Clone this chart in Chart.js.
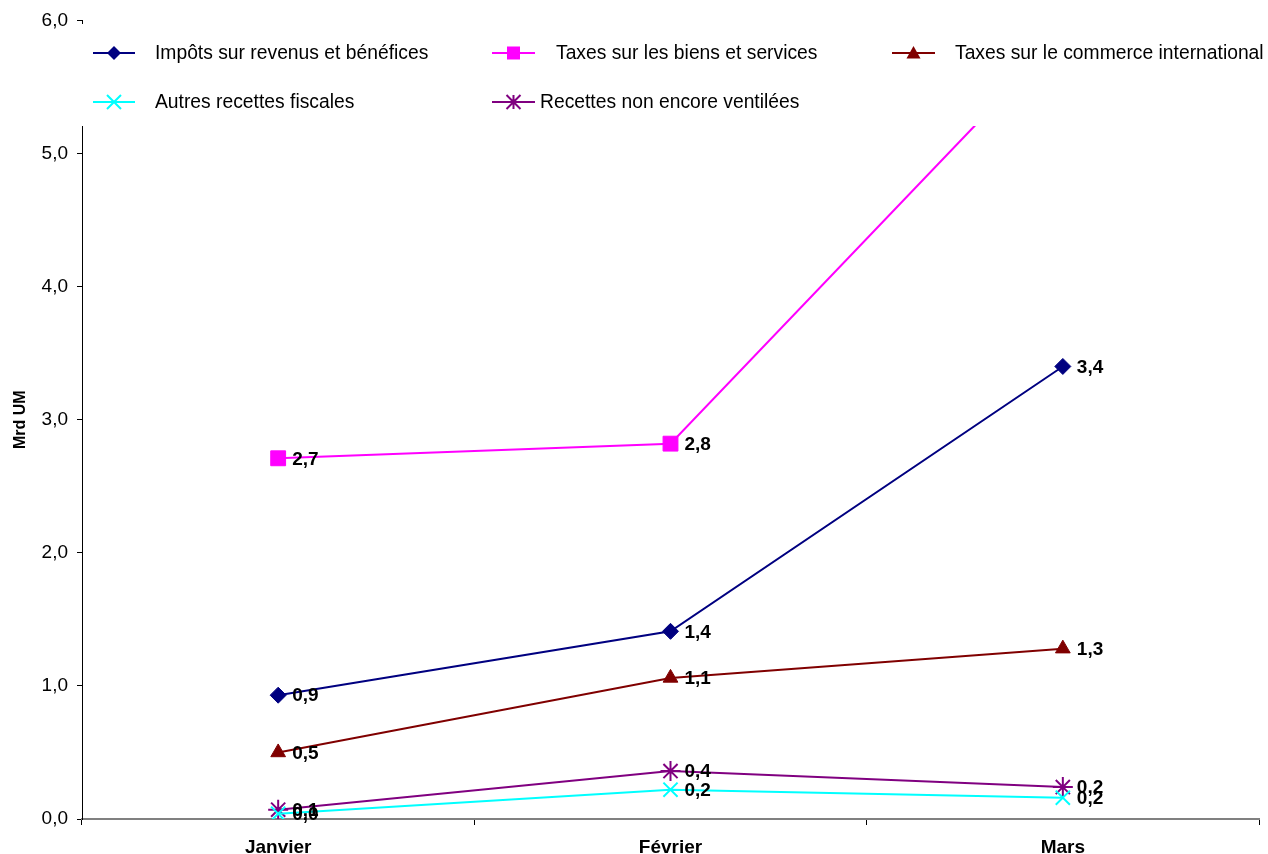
<!DOCTYPE html>
<html>
<head>
<meta charset="utf-8">
<script src="https://cdn.jsdelivr.net/npm/chart.js@4"></script>
<style>
  body { margin: 0; background: #fff; }
  canvas { display: block; }
</style>
</head>
<body>
<canvas id="recettes" width="1268" height="854"></canvas>
<script>
// mois
const mois = ['Janvier', 'Février', 'Mars']

// séries (Mrd UM)
const impots = [0.93, 1.41, 3.40]
const biensServices = [2.71, 2.82, 5.90]
const commerceIntl = [0.50, 1.06, 1.28]
const autresRecettes = [0.04, 0.22, 0.16]
const nonVentilees = [0.07, 0.36, 0.24]

const yTicks = [0, 1, 2, 3, 4, 5, 6]

const fmt = v => v.toFixed(1).replace('.', ',')
const FONT = '"Liberation Sans", Arial, sans-serif'

const series = [
    { label: 'Impôts sur revenus et bénéfices', data: impots, color: '#000080', style: 'rectRot', r: 8 },
    { label: 'Taxes sur les biens et services', data: biensServices, color: '#FF00FF', style: 'rect', r: 10.5 },
    { label: 'Taxes sur le commerce international', data: commerceIntl, color: '#800000', style: 'triangle', r: 8.5 },
    { label: 'Autres recettes fiscales', data: autresRecettes, color: '#00FFFF', style: 'crossRot', r: 10 },
    { label: 'Recettes non encore ventilées', data: nonVentilees, color: '#800080', style: 'star', r: 10 },
]

// légende dessinée à la main, posée sur le haut du graphique
const legendSlots = [
    { x1: 93, x2: 135, y: 53, tx: 155 },
    { x1: 492, x2: 535, y: 53, tx: 556 },
    { x1: 892, x2: 935, y: 53, tx: 955 },
    { x1: 93, x2: 135, y: 102, tx: 155 },
    { x1: 492, x2: 535, y: 102, tx: 540 },
]

function marker(ctx, style, x, y, r, color) {
    ctx.save()
    ctx.fillStyle = color
    ctx.strokeStyle = color
    ctx.lineWidth = 2
    ctx.beginPath()
    if (style === 'rectRot') {
        ctx.moveTo(x, y - r); ctx.lineTo(x + r, y); ctx.lineTo(x, y + r); ctx.lineTo(x - r, y)
        ctx.closePath(); ctx.fill()
    } else if (style === 'rect') {
        ctx.fillRect(x - r, y - r, 2 * r, 2 * r)
    } else if (style === 'triangle') {
        ctx.moveTo(x, y - r); ctx.lineTo(x + r, y + r * 0.8); ctx.lineTo(x - r, y + r * 0.8)
        ctx.closePath(); ctx.fill()
    } else if (style === 'crossRot') {
        ctx.moveTo(x - r, y - r); ctx.lineTo(x + r, y + r)
        ctx.moveTo(x + r, y - r); ctx.lineTo(x - r, y + r)
        ctx.stroke()
    } else {
        ctx.moveTo(x - r, y - r); ctx.lineTo(x + r, y + r)
        ctx.moveTo(x + r, y - r); ctx.lineTo(x - r, y + r)
        ctx.moveTo(x, y - r); ctx.lineTo(x, y + r)
        ctx.stroke()
    }
    ctx.restore()
}

const overlay = {
    id: 'overlay',
    afterDatasetsDraw(chart) {
        const ctx = chart.ctx
        // étiquettes de valeurs
        ctx.save()
        ctx.font = 'bold 19px ' + FONT
        ctx.fillStyle = '#000'
        ctx.textBaseline = 'middle'
        chart.data.datasets.forEach((ds, i) => {
            chart.getDatasetMeta(i).data.forEach((pt, j) => {
                ctx.fillText(fmt(ds.data[j]), pt.x + 14, pt.y + 1)
            })
        })
        ctx.restore()

        // fond blanc de la légende
        ctx.save()
        ctx.fillStyle = '#fff'
        ctx.fillRect(79, 24, 1268 - 79, 102)
        ctx.font = '19.3px ' + FONT
        ctx.textBaseline = 'middle'
        series.forEach((s, i) => {
            const p = legendSlots[i]
            ctx.strokeStyle = s.color
            ctx.lineWidth = 2
            ctx.beginPath()
            ctx.moveTo(p.x1, p.y)
            ctx.lineTo(p.x2, p.y)
            ctx.stroke()
            marker(ctx, s.style, (p.x1 + p.x2) / 2, p.y, s.style === 'rect' ? 6.5 : 7, s.color)
            ctx.fillStyle = '#000'
            ctx.fillText(s.label, p.tx, p.y + 1)
        })
        ctx.restore()
    }
}

new Chart(document.getElementById('recettes'), {
    type: 'line',
    data: {
        labels: mois,
        datasets: series.map(s => ({
            label: s.label,
            data: s.data,
            borderColor: s.color,
            backgroundColor: s.color,
            borderWidth: 2,
            pointStyle: s.style,
            pointRadius: s.r,
            pointBorderWidth: s.style === 'crossRot' || s.style === 'star' ? 2 : 1,
            tension: 0,
        }))
    },
    options: {
        responsive: false,
        animation: false,
        layout: { autoPadding: false, padding: { top: 20, right: 9, bottom: 0, left: 0 } },
        plugins: {
            legend: { display: false },
            tooltip: { enabled: false },
        },
        scales: {
            x: {
                offset: true,
                grid: { offset: true, drawOnChartArea: false, drawTicks: true, tickLength: 6, color: '#000' },
                border: { color: '#808080', width: 2 },
                ticks: {
                    color: '#000',
                    padding: 11,
                    font: { family: FONT, size: 19, weight: 'bold' },
                },
                afterFit(scale) {
                    scale.height = 35
                    scale.paddingLeft = 0
                    scale.paddingRight = 0
                },
            },
            y: {
                min: 0,
                max: 6,
                afterBuildTicks(scale) { scale.ticks = yTicks.map(v => ({ value: v })) },
                grid: { drawOnChartArea: false, drawTicks: true, tickLength: 5, color: '#000' },
                border: { color: '#000', width: 1 },
                ticks: {
                    color: '#000',
                    padding: 9,
                    callback: v => fmt(v),
                    font: { family: FONT, size: 19 },
                },
                title: {
                    display: true,
                    text: 'Mrd UM',
                    color: '#000',
                    padding: { top: 11, bottom: 0 },
                    font: { family: FONT, size: 16, weight: 'bold' },
                },
                afterFit(scale) { scale.width = 82 },
            }
        }
    },
    plugins: [overlay]
})
</script>
</body>
</html>
